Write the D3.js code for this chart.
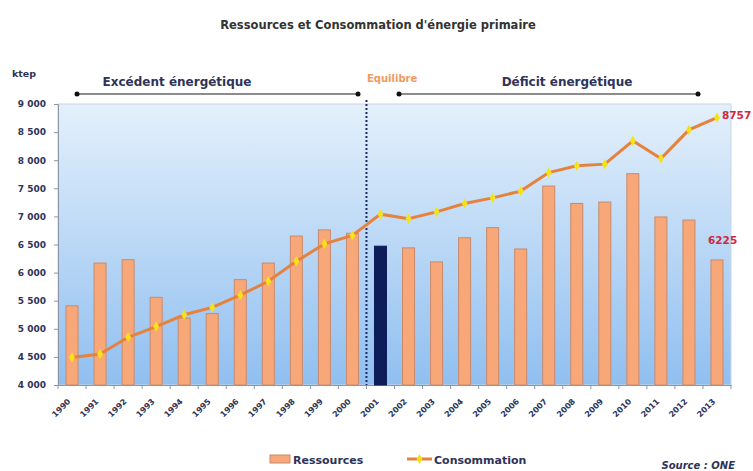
<!DOCTYPE html>
<html>
<head>
<meta charset="utf-8">
<script src="https://d3js.org/d3.v7.min.js"></script>
<style>
  body { margin: 0; background: #fff; }
  svg { font-family: "DejaVu Sans", Verdana, sans-serif; }
  text { fill: #2e3358; font-weight: bold; }
</style>
</head>
<body>
<svg id="chart" width="753" height="471"></svg>
<script>
// data
const years = ["1990","1991","1992","1993","1994","1995","1996","1997","1998","1999","2000","2001",
               "2002","2003","2004","2005","2006","2007","2008","2009","2010","2011","2012","2013"];
const ressources = [5410, 6170, 6230, 5560, 5190, 5270, 5875, 6170, 6650, 6760, 6700, 6470,
                    6440, 6190, 6620, 6800, 6420, 7540, 7230, 7255, 7760, 6990, 6935, 6225];
const consommation = [4490, 4550, 4850, 5040, 5250, 5380, 5600, 5845, 6200, 6510, 6660, 7040,
                      6960, 7080, 7230, 7330, 7450, 7780, 7900, 7930, 8345, 8030, 8540, 8757];
const yTicks = [4000, 4500, 5000, 5500, 6000, 6500, 7000, 7500, 8000, 8500, 9000];

const svg = d3.select("#chart");
const plotL = 58, plotR = 731, plotT = 104, plotB = 385;

const x = d3.scaleBand().domain(years).range([plotL, plotR]);
const y = d3.scaleLinear().domain([4000, 9000]).range([plotB, plotT]);

// plot background gradient
const defs = svg.append("defs");
const grad = defs.append("linearGradient").attr("id", "bg")
  .attr("x1", 0).attr("y1", 0).attr("x2", 0).attr("y2", 1);
grad.append("stop").attr("offset", "0%").attr("stop-color", "#e4f0fb");
grad.append("stop").attr("offset", "100%").attr("stop-color", "#90bff0");

svg.append("rect")
  .attr("x", plotL).attr("y", plotT)
  .attr("width", plotR - plotL).attr("height", plotB - plotT)
  .attr("fill", "url(#bg)")
  .attr("stroke", "#c9d6e4");

// title
svg.append("text")
  .attr("x", 378).attr("y", 29)
  .attr("text-anchor", "middle")
  .style("font-size", "11.5px")
  .style("fill", "#333")
  .text("Ressources et Consommation d'énergie primaire");

svg.append("text")
  .attr("x", 12).attr("y", 77)
  .style("font-size", "9.5px")
  .text("ktep");

// y axis
const fmt = d => d3.format(",")(d).replace(",", " ");
const yAxis = svg.append("g")
  .attr("transform", "translate(" + plotL + ",0)")
  .call(d3.axisLeft(y).tickValues(yTicks).tickSize(4).tickPadding(8).tickFormat(fmt));
yAxis.selectAll("text").style("font-size", "9px").style("font-family", "DejaVu Sans");
yAxis.selectAll("line, path").attr("stroke", "#8a96a8");

// x axis
const xAxis = svg.append("g")
  .attr("transform", "translate(0," + plotB + ")")
  .call(d3.axisBottom(x).tickSize(0));
xAxis.select("path").attr("stroke", "#8a96a8");
xAxis.selectAll("text")
  .style("font-size", "8px")
  .style("font-family", "DejaVu Sans")
  .attr("text-anchor", "end")
  .attr("x", 0).attr("y", 0)
  .attr("dy", "0.35em")
  .attr("transform", "translate(-3,15) rotate(-45)");
// small ticks between bands
svg.append("g").selectAll("line")
  .data(years.concat(["end"]))
  .enter().append("line")
  .attr("x1", (d, i) => plotL + i * x.step())
  .attr("x2", (d, i) => plotL + i * x.step())
  .attr("y1", plotB).attr("y2", plotB + 4)
  .attr("stroke", "#8a96a8");

// bars
const barW = 12;
svg.append("g").selectAll("rect")
  .data(ressources)
  .enter().append("rect")
  .attr("x", (d, i) => x(years[i]) + x.bandwidth() / 2 - barW / 2)
  .attr("y", d => y(d))
  .attr("width", barW)
  .attr("height", d => plotB - y(d))
  .attr("fill", (d, i) => years[i] === "2001" ? "#0c1d5a" : "#f8a878")
  .attr("stroke", (d, i) => years[i] === "2001" ? "#0c1d5a" : "#c98a6c")
  .attr("stroke-width", 1);

// divider between 2000 and 2001
const xDiv = x("2001");
svg.append("line")
  .attr("x1", xDiv).attr("x2", xDiv)
  .attr("y1", 100).attr("y2", plotB)
  .attr("stroke", "#1c2c6c")
  .attr("stroke-width", 2)
  .attr("stroke-dasharray", "2,2");

// consumption line
const line = d3.line()
  .x((d, i) => x(years[i]) + x.bandwidth() / 2)
  .y(d => y(d));
svg.append("path")
  .datum(consommation)
  .attr("d", line)
  .attr("fill", "none")
  .attr("stroke", "#e5823e")
  .attr("stroke-width", 3);
svg.append("g").selectAll("path")
  .data(consommation)
  .enter().append("path")
  .attr("d", d3.symbol().type(d3.symbolDiamond).size(30))
  .attr("transform", (d, i) => "translate(" + (x(years[i]) + x.bandwidth() / 2) + "," + y(d) + ")")
  .attr("fill", "#f7e21a");

// value labels
svg.append("text")
  .attr("x", 722).attr("y", 119)
  .style("font-size", "10.5px").style("fill", "#d0263e")
  .text(consommation[consommation.length - 1]);
svg.append("text")
  .attr("x", 708).attr("y", 244)
  .style("font-size", "10.5px").style("fill", "#d0263e")
  .text(ressources[ressources.length - 1]);

// period annotations
function arrow(x1, x2, yy) {
  svg.append("line")
    .attr("x1", x1).attr("x2", x2).attr("y1", yy).attr("y2", yy)
    .attr("stroke", "#8c8c8c").attr("stroke-width", 2);
  [x1, x2].forEach(xx => svg.append("circle")
    .attr("cx", xx).attr("cy", yy).attr("r", 2.5).attr("fill", "#111"));
}
arrow(77, 358, 94);
arrow(399, 698, 94);

svg.append("text")
  .attr("x", 177).attr("y", 86)
  .attr("text-anchor", "middle")
  .style("font-size", "12px")
  .text("Excédent énergétique");
svg.append("text")
  .attr("x", 567).attr("y", 86)
  .attr("text-anchor", "middle")
  .style("font-size", "12px")
  .text("Déficit énergétique");
svg.append("text")
  .attr("x", 367).attr("y", 82)
  .style("font-size", "10px")
  .style("fill", "#f09a62")
  .text("Equilibre");

// legend
svg.append("rect")
  .attr("x", 270).attr("y", 455).attr("width", 20).attr("height", 8)
  .attr("fill", "#f8a878").attr("stroke", "#c98a6c");
svg.append("text")
  .attr("x", 293).attr("y", 464)
  .style("font-size", "11px")
  .text("Ressources");
svg.append("line")
  .attr("x1", 407).attr("x2", 432).attr("y1", 459).attr("y2", 459)
  .attr("stroke", "#e5823e").attr("stroke-width", 3);
svg.append("path")
  .attr("d", d3.symbol().type(d3.symbolDiamond).size(30))
  .attr("transform", "translate(419.5,459)")
  .attr("fill", "#f7e21a");
svg.append("text")
  .attr("x", 434).attr("y", 464)
  .style("font-size", "11px")
  .text("Consommation");

svg.append("text")
  .attr("x", 735).attr("y", 469)
  .attr("text-anchor", "end")
  .style("font-size", "10px")
  .style("font-style", "italic")
  .text("Source : ONE");
</script>
</body>
</html>
